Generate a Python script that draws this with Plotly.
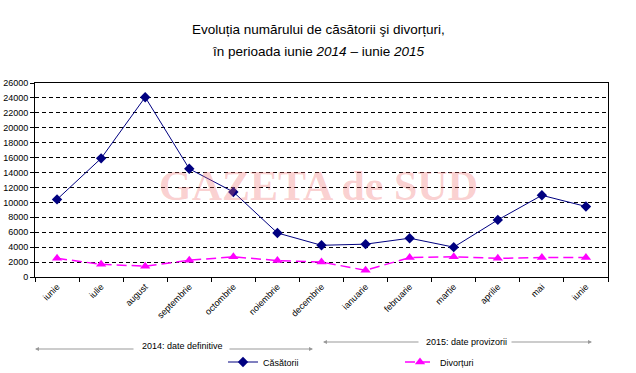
import plotly.graph_objects as go

months = ["iunie", "iulie", "august", "septembrie", "octombrie", "noiembrie", "decembrie",
          "ianuarie", "februarie", "martie", "aprilie", "mai", "iunie"]
years = [2014, 2014, 2014, 2014, 2014, 2014, 2014, 2015, 2015, 2015, 2015, 2015, 2015]
casatorii = [10400, 15900, 24100, 14500, 11400, 5900, 4250, 4400, 5200, 4000, 7650, 10950, 9450]
divorturi = [2500, 1700, 1450, 2250, 2700, 2200, 2000, 900, 2600, 2700, 2500, 2600, 2600]
y_ticks = list(range(0, 26001, 2000))

keys = [f"{m} {y}" for m, y in zip(months, years)]

FONT = "Liberation Sans, Arial, sans-serif"

fig = go.Figure()
fig.add_trace(go.Scatter(
    x=keys, y=casatorii, name="Căsătorii", mode="lines+markers",
    line=dict(color="#000080", width=1),
    marker=dict(symbol="diamond", size=8, color="#000080"),
    legend="legend",
))
fig.add_trace(go.Scatter(
    x=keys, y=divorturi, name="Divorțuri", mode="lines+markers",
    line=dict(color="#FF00FF", width=1.5, dash="10px,5px"),
    marker=dict(symbol="triangle-up", size=9, color="#FF00FF"),
    legend="legend2",
))

W, H = 636, 373
L, R, T, B = 35, 28, 83, 96
pw, ph = W - L - R, H - T - B


def px(x):
    return (x - L) / pw


def py(y):
    return (H - B - y) / ph


def label(text, x, y, size=9, family=FONT, color="#000"):
    return dict(text=text, x=px(x), y=py(y), xref="paper", yref="paper",
                xanchor="center", yanchor="middle", showarrow=False,
                font=dict(family=family, size=size, color=color))


annotations = [
    label("Evoluția numărului de căsătorii şi divorțuri,", 318, 29, size=13.5),
    label("în perioada iunie <i>2014</i> – iunie <i>2015</i>", 318, 52, size=13.5),
    label("<b>GAZETA de SUD</b>", 318, 186, size=42,
          family="Liberation Serif, Times New Roman, serif", color="rgba(240,110,110,0.32)"),
    label("2014: date definitive", 182, 346),
    label("2015: date provizorii", 466, 342),
]

# gray arrows (head at x, tail offset by ax)
for head, tail, yy in [(35, 135, 349), (313, 228, 349), (323, 420, 342), (592, 510, 342)]:
    annotations.append(dict(
        text="", x=px(head), y=py(yy), xref="paper", yref="paper",
        ax=tail - head, ay=0, axref="pixel", ayref="pixel", showarrow=True,
        arrowhead=2, arrowsize=0.8, arrowwidth=1, arrowcolor="#999999", standoff=0,
    ))

fig.update_layout(
    width=W, height=H,
    margin=dict(l=L, r=R, t=T, b=B, autoexpand=False),
    paper_bgcolor="white", plot_bgcolor="white",
    font=dict(family=FONT, size=9, color="#000"),
    showlegend=True,
    legend=dict(orientation="h", x=px(223), y=py(362), xanchor="left", yanchor="middle",
                font=dict(family=FONT, size=9), bgcolor="rgba(0,0,0,0)"),
    legend2=dict(orientation="h", x=px(400), y=py(362), xanchor="left", yanchor="middle",
                 font=dict(family=FONT, size=9), bgcolor="rgba(0,0,0,0)"),
    annotations=annotations,
    xaxis=dict(
        type="category", tickmode="array", tickvals=keys, ticktext=months,
        tickangle=-45, tickson="boundaries", ticks="outside", ticklen=4, tickcolor="#000",
        showline=True, linecolor="#000", linewidth=1, mirror=True, showgrid=False,
        tickfont=dict(family=FONT, size=9), range=[-0.5, 12.5], automargin=False,
    ),
    yaxis=dict(
        range=[0, 26000], tickmode="array", tickvals=y_ticks, tickformat="d",
        ticks="outside", ticklen=4, tickcolor="#000",
        showline=True, linecolor="#000", linewidth=1, mirror=True,
        showgrid=True, gridcolor="#000", gridwidth=1, griddash="4px,3px",
        zeroline=False, tickfont=dict(family=FONT, size=9), automargin=False,
    ),
)

fig.write_html("out.html", config={"displayModeBar": False},
               post_script="document.body.style.margin='0';document.body.style.padding='0';")
